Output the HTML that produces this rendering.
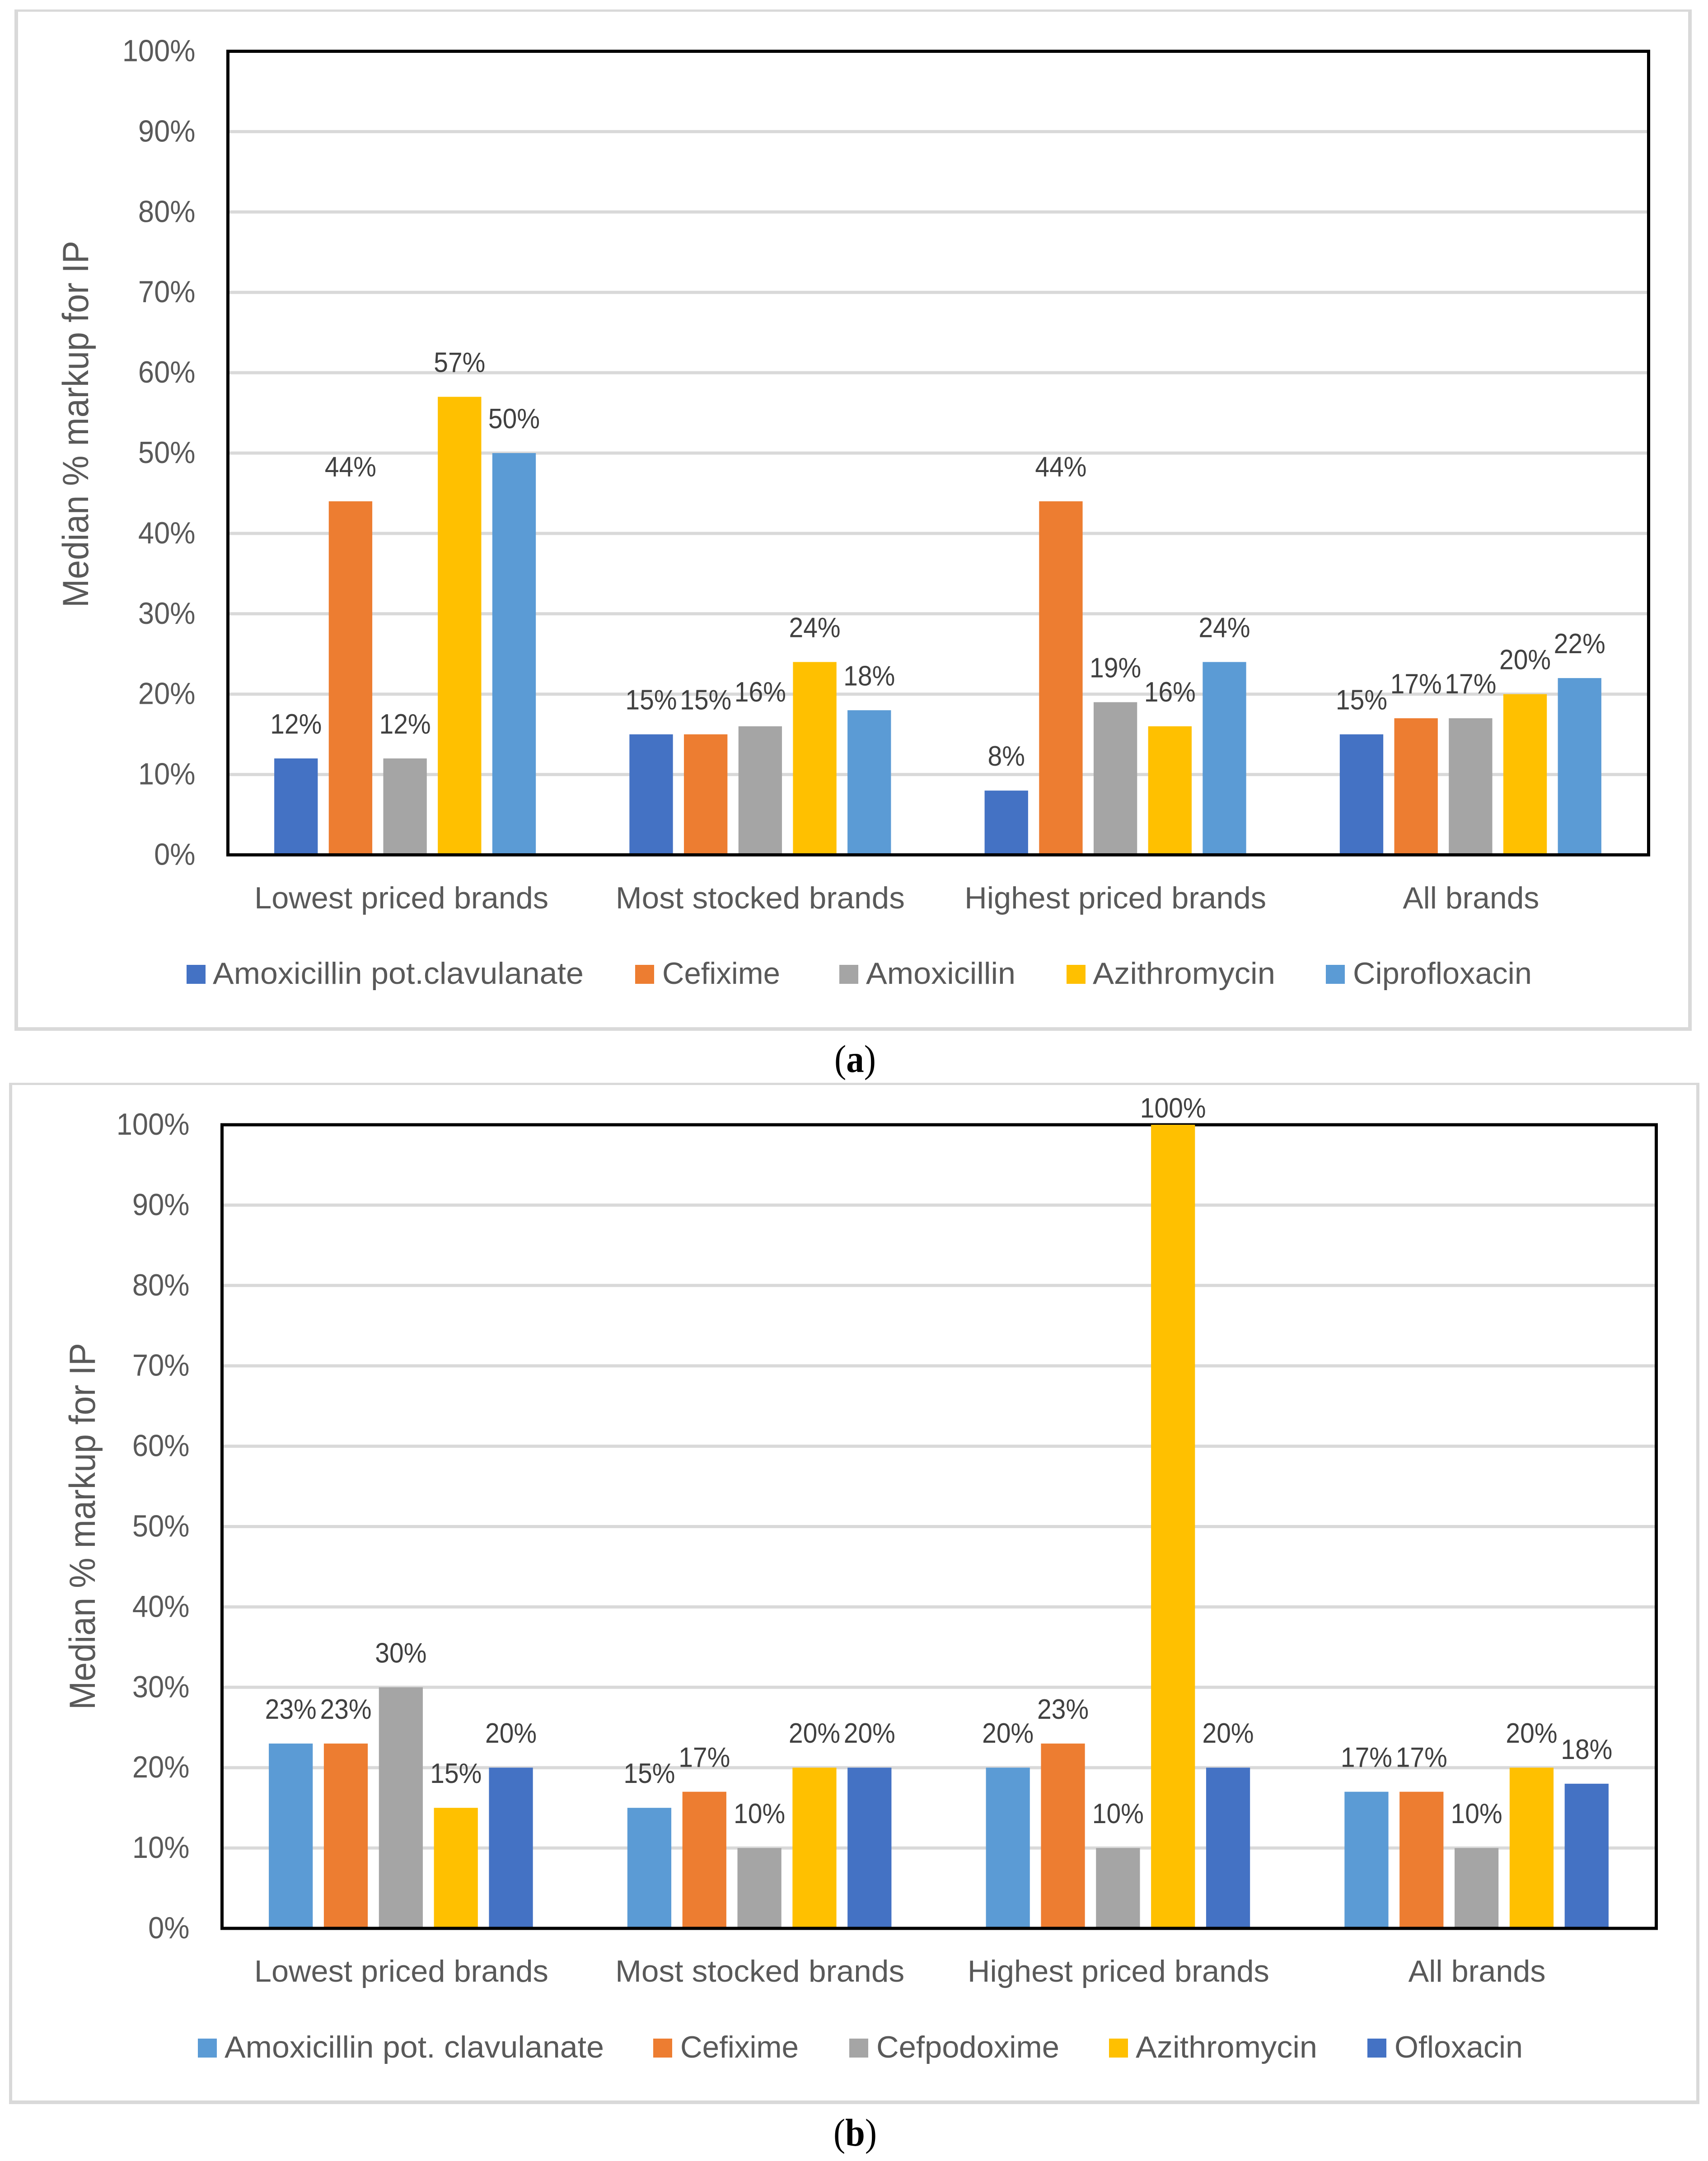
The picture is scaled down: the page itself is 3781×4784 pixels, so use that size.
<!DOCTYPE html>
<html lang="en">
<head>
<meta charset="utf-8">
<title>Median % markup for IP</title>
<style>
html,body{margin:0;padding:0;background:#fff;}
svg{display:block;}
text{font-family:"Liberation Sans",sans-serif;}
.caption{font-family:"Liberation Serif",serif;fill:#000;}
</style>
</head>
<body>
<svg id="figure" xmlns="http://www.w3.org/2000/svg" width="3781" height="4784" viewBox="0 0 3781 4784">
  <rect x="0" y="0" width="3781" height="4784" fill="#ffffff"/>
  <text class="caption" x="1893" y="2373" font-size="86" text-anchor="middle" textLength="92" lengthAdjust="spacingAndGlyphs">(<tspan font-weight="bold">a</tspan>)</text>
  <text class="caption" x="1893" y="4750" font-size="86" text-anchor="middle" textLength="96" lengthAdjust="spacingAndGlyphs">(<tspan font-weight="bold">b</tspan>)</text>
</svg>
<script>
// ---- Chart (a) data ----
const categoriesA = ["Lowest priced brands", "Most stocked brands", "Highest priced brands", "All brands"];
const seriesNamesA = ["Amoxicillin pot.clavulanate", "Cefixime", "Amoxicillin", "Azithromycin", "Ciprofloxacin"];
const amoxClavValuesA = [12, 15, 8, 15];
const cefiximeValuesA = [44, 15, 44, 17];
const amoxicillinValuesA = [12, 16, 19, 17];
const azithromycinValuesA = [57, 24, 16, 20];
const ciprofloxacinValuesA = [50, 18, 24, 22];

// ---- Chart (b) data ----
const categoriesB = ["Lowest priced brands", "Most stocked brands", "Highest priced brands", "All brands"];
const seriesNamesB = ["Amoxicillin pot. clavulanate", "Cefixime", "Cefpodoxime", "Azithromycin", "Ofloxacin"];
const amoxClavValuesB = [23, 15, 20, 17];
const cefiximeValuesB = [23, 17, 23, 17];
const cefpodoximeValuesB = [30, 10, 10, 10];
const azithromycinValuesB = [15, 20, 100, 20];
const ofloxacinValuesB = [20, 20, 20, 18];

// ---- Shared axis data ----
const tickValues = [0, 10, 20, 30, 40, 50, 60, 70, 80, 90, 100];
const tickLabels = ["0%", "10%", "20%", "30%", "40%", "50%", "60%", "70%", "80%", "90%", "100%"];
const axisTitle = "Median % markup for IP";

const NS = "http://www.w3.org/2000/svg";
const root = document.getElementById("figure");

function make(tag, attrs, parent) {
  const node = document.createElementNS(NS, tag);
  for (const k in attrs) node.setAttribute(k, attrs[k]);
  (parent || root).appendChild(node);
  return node;
}

function drawChart(cfg) {
  const g = make("g", {});
  
  

  // panel border (sides have slightly different weights in the source)
  const sides = [
    [cfg.panel.l, cfg.panel.t, cfg.panel.r - cfg.panel.l, cfg.panel.tw],
    [cfg.panel.l, cfg.panel.b - cfg.panel.bw, cfg.panel.r - cfg.panel.l, cfg.panel.bw],
    [cfg.panel.l, cfg.panel.t, cfg.panel.sw, cfg.panel.b - cfg.panel.t],
    [cfg.panel.r - cfg.panel.sw, cfg.panel.t, cfg.panel.sw, cfg.panel.b - cfg.panel.t]
  ];
  sides.forEach(function (s) {
    const el = make("rect", {x: s[0], y: s[1], width: s[2], height: s[3], fill: "#d9d9d9"}, g);
    
    
  });

  const x0 = cfg.plot.l, x1 = cfg.plot.r, yZero = cfg.plot.zero, yFull = cfg.plot.full;
  const yScale = function (v) { return yZero + (yFull - yZero) * v / 100; };
  const band = (x1 - x0) / cfg.categories.length;
  const barW = band * 0.1225;
  const step = band * 0.1535;
  const xScale = function (c, s) {
    const n = cfg.series.length;
    const total = step * (n - 1) + barW;
    return x0 + band * c + (band - total) / 2 + step * s - 1;
  };

  // gridlines and tick labels
  tickValues.forEach(function (v, i) {
    const y = yScale(v);
    if (v > 0 && v < 100) {
      const line = make("line", {x1: x0, x2: x1, y1: y, y2: y, stroke: "#d9d9d9", "stroke-width": 7}, g);
      
      
    }
    const t = make("text", {
      transform: "translate(" + (x0 - 72) + "," + (y + 22) + ") scale(0.93,1)",
      "text-anchor": "end", "font-size": 68, fill: "#595959"
    }, g);
    t.textContent = tickLabels[i];
    
    
  });

  // frame: top, left, right (bars paint over these)
  const frameParts = [[x0 - 3.5, yFull, x1 + 3.5, yFull], [x0, yFull, x0, yZero], [x1, yFull, x1, yZero]];
  frameParts.forEach(function (p) {
    const fr = make("line", {x1: p[0], y1: p[1], x2: p[2], y2: p[3], stroke: "#000", "stroke-width": 7}, g);
    
    
  });

  // bars and data labels
  cfg.series.forEach(function (vals, s) {
    vals.forEach(function (v, c) {
      const bx = xScale(c, s);
      const by = yScale(v);
      const bar = make("rect", {x: bx, y: by, width: barW, height: yZero - by, fill: cfg.colors[s]}, g);
      
      
      const labelY = Math.max(by - 55, yFull - 16);
      const lab = make("text", {
        transform: "translate(" + (bx + barW / 2) + "," + labelY + ") scale(0.92,1)",
        "text-anchor": "middle", "font-size": 62, fill: "#404040"
      }, g);
      lab.textContent = v + "%";
      
      
    });
  });

  // bottom axis sits over the bar bases
  const base = make("line", {x1: x0 - 3.5, y1: yZero, x2: x1 + 3.5, y2: yZero, stroke: "#000", "stroke-width": 7}, g);
  
  

  // category labels
  cfg.categories.forEach(function (name, c) {
    const lab = make("text", {
      x: x0 + band * (c + 0.5) + cfg.catShift[c], y: cfg.catBaseline,
      "text-anchor": "middle", "font-size": 68, fill: "#595959",
      textLength: cfg.catWidths[c], lengthAdjust: "spacingAndGlyphs"
    }, g);
    lab.textContent = name;
    
    
  });

  // axis title
  const title = make("text", {
    transform: "translate(" + cfg.title.x + "," + cfg.title.y + ") rotate(-90)",
    "text-anchor": "middle", "font-size": 81, fill: "#595959",
    textLength: cfg.title.len, lengthAdjust: "spacingAndGlyphs"
  }, g);
  title.textContent = axisTitle;
  
  

  // legend
  cfg.names.forEach(function (name, i) {
    const it = cfg.legend[i];
    const sw = make("rect", {x: it[0], y: cfg.legendBase - 42, width: 42, height: 42, fill: cfg.colors[i]}, g);
    
    
    const tx = make("text", {
      x: it[1], y: cfg.legendBase, "font-size": 68, fill: "#595959",
      textLength: it[2], lengthAdjust: "spacingAndGlyphs"
    }, g);
    tx.textContent = name;
    
    
  });
}

drawChart({
  id: "chart-a",
  categories: categoriesA,
  names: seriesNamesA,
  series: [amoxClavValuesA, cefiximeValuesA, amoxicillinValuesA, azithromycinValuesA, ciprofloxacinValuesA],
  colors: ["#4472c4", "#ed7d31", "#a5a5a5", "#ffc000", "#5b9bd5"],
  panel: {l: 32, t: 21, r: 3745, b: 2282, tw: 5, bw: 8, sw: 8},
  plot: {l: 504.5, r: 3649.5, zero: 1892.5, full: 113.5},
  catShift: [-9, -1, -1, 0],
  catWidths: [651, 640, 668, 302],
  catBaseline: 2011,
  title: {x: 195, y: 939, len: 812},
  legendBase: 2178,
  legend: [[413, 471, 821], [1406, 1466, 261], [1858, 1917, 331], [2361, 2419, 404], [2935, 2995, 396]]
});

drawChart({
  id: "chart-b",
  categories: categoriesB,
  names: seriesNamesB,
  series: [amoxClavValuesB, cefiximeValuesB, cefpodoximeValuesB, azithromycinValuesB, ofloxacinValuesB],
  colors: ["#5b9bd5", "#ed7d31", "#a5a5a5", "#ffc000", "#4472c4"],
  panel: {l: 20, t: 2397, r: 3762, b: 4658, tw: 5, bw: 8, sw: 7},
  plot: {l: 491.5, r: 3666.5, zero: 4269, full: 2490},
  catShift: [0, 0, 0, 0],
  catWidths: [651, 640, 668, 304],
  catBaseline: 4387,
  title: {x: 210, y: 3379, len: 812},
  legendBase: 4555,
  legend: [[438, 497, 840], [1446, 1506, 262], [1880, 1940, 405], [2455, 2514, 402], [3027, 3087, 284]]
});
</script>
</body>
</html>
